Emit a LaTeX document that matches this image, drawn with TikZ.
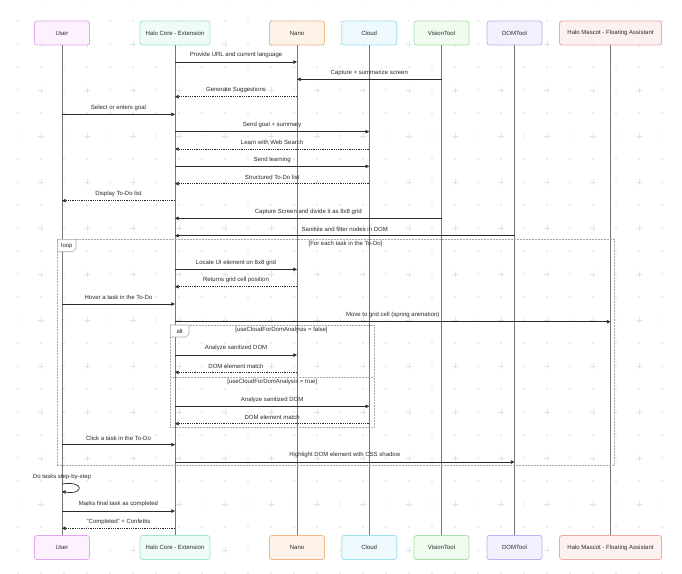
\documentclass[tikz,border=0pt]{standalone}
\usepackage{fontspec}
\setmainfont{Liberation Sans}
\usetikzlibrary{arrows.meta,calc}
\definecolor{txt}{HTML}{2A2A2A}
\definecolor{lifec}{HTML}{777777}
\definecolor{dotc}{HTML}{D3DCE2}
\definecolor{crossc}{HTML}{D2E9EF}
\definecolor{uF}{HTML}{FCF1FD}\definecolor{uD}{HTML}{E2A6EE}
\definecolor{hF}{HTML}{EEFBF7}\definecolor{hD}{HTML}{A6E3D3}
\definecolor{nF}{HTML}{FDF3E9}\definecolor{nD}{HTML}{EFB887}
\definecolor{cF}{HTML}{EEFAFD}\definecolor{cD}{HTML}{A0DEEB}
\definecolor{vF}{HTML}{F1FBF0}\definecolor{vD}{HTML}{A9E0A8}
\definecolor{dF}{HTML}{F3F1FD}\definecolor{dD}{HTML}{BBB2EF}
\definecolor{mF}{HTML}{FDF1F0}\definecolor{mD}{HTML}{EBAAA6}
\definecolor{frame}{HTML}{A8A8A8}
\tikzset{
  actor/.style={draw, rounded corners=2.5pt, line width=0.8pt, minimum width=55pt, minimum height=24pt, inner sep=1pt, text=txt},
  life/.style={draw=lifec, line width=0.8pt},
  msg/.style={draw=txt, line width=0.7pt, -{Triangle[length=3.6pt,width=3.4pt]}},
  ret/.style={msg, dash pattern=on 0.9pt off 0.9pt},
  lbl/.style={above=2.6pt, inner sep=1pt, text=txt},
  fbox/.style={draw=frame, line width=0.7pt, dash pattern=on 2pt off 1pt},
  tag/.style={draw=frame, fill=white, line width=0.6pt},
  note/.style={inner sep=1pt, text=txt}
}
\begin{document}
\begin{tikzpicture}[x=1pt,y=-1pt,font=\fontsize{6}{7}\selectfont]
\useasboundingbox (0,0) rectangle (682,573);
\fill[white] (0,0) rectangle (682,573);
% background grid
\foreach \i in {-1,...,28}{
  \foreach \j in {-4,...,21}{
    \pgfmathtruncatemacro{\cr}{(mod(\i+100,2)==0 && mod(\j+100,2)==0) ? 1 : 0}
    \pgfmathsetmacro{\gx}{41+23*\i}
    \pgfmathsetmacro{\gy}{90+23*\j}
    \ifnum\cr=1
      \draw[crossc, line width=0.8pt] (\gx-3,\gy) -- (\gx+3,\gy) (\gx,\gy-3) -- (\gx,\gy+3);
    \else
      \fill[dotc] (\gx,\gy) circle (0.95);
    \fi
  }
}
% actors top
\node[actor, fill=uF, draw=uD] (u1) at (62,33) {User};
\node[actor, fill=hF, draw=hD, minimum width=70pt] (h1) at (175,33) {Halo Core - Extension};
\node[actor, fill=nF, draw=nD] (n1) at (297,33) {Nano};
\node[actor, fill=cF, draw=cD] (c1) at (369.2,33) {Cloud};
\node[actor, fill=vF, draw=vD] (v1) at (441.5,33) {VisionTool};
\node[actor, fill=dF, draw=dD] (d1) at (514.5,33) {DOMTool};
\node[actor, fill=mF, draw=mD, minimum width=102pt] (m1) at (610.5,33) {Halo Mascot - Floating Assistant};
% actors bottom
\node[actor, fill=uF, draw=uD] (u2) at (62,547.5) {User};
\node[actor, fill=hF, draw=hD, minimum width=70pt] (h2) at (175,547.5) {Halo Core - Extension};
\node[actor, fill=nF, draw=nD] (n2) at (297,547.5) {Nano};
\node[actor, fill=cF, draw=cD] (c2) at (369.2,547.5) {Cloud};
\node[actor, fill=vF, draw=vD] (v2) at (441.5,547.5) {VisionTool};
\node[actor, fill=dF, draw=dD] (d2) at (514.5,547.5) {DOMTool};
\node[actor, fill=mF, draw=mD, minimum width=102pt] (m2) at (610.5,547.5) {Halo Mascot - Floating Assistant};
% lifelines
\foreach \a in {u,h,n,c,v,d,m}{\draw[life] (\a1.south) -- (\a2.north);}
% loop frame
\draw[fbox] (57.8,239.3) rectangle (614.8,465);
\draw[tag] (57.8,239.3) -- (76,239.3) -- (76,248.5) -- (72.8,251.7) -- (57.8,251.7) -- cycle;
\node[note] (looplbl) at (66.9,245.5) {loop};
\node[note] (loopcond) at (345.5,244.3) {[For each task in the To-Do]};
% alt frame
\draw[fbox] (170.4,325) rectangle (374,427.7);
\draw[fbox] (170.4,377.7) -- (374,377.7);
\draw[tag] (170.4,325) -- (189,325) -- (189,334) -- (186,337) -- (170.4,337) -- cycle;
\node[note] (altlbl) at (179.7,331) {alt};
\node[note] (altc1) at (281.5,329.7) {[useCloudForDomAnalysis = false]};
\node[note] (altc2) at (272.2,382) {[useCloudForDomAnalysis = true]};
% messages
\draw[msg] (h1 |- 0,62) -- node[lbl]{Provide URL and current language} (n1 |- 0,62);
\draw[msg] (v1 |- 0,79.3) -- node[lbl]{Capture + summarize screen} (n1 |- 0,79.3);
\draw[ret] (n1 |- 0,96.7) -- node[lbl]{Generate Suggestions} (h1 |- 0,96.7);
\draw[msg] (u1 |- 0,114.3) -- node[lbl]{Select or enters goal} (h1 |- 0,114.3);
\draw[msg] (h1 |- 0,131.7) -- node[lbl]{Send goal + summary} (c1 |- 0,131.7);
\draw[ret] (c1 |- 0,149) -- node[lbl]{Learn with Web Search} (h1 |- 0,149);
\draw[msg] (h1 |- 0,166.3) -- node[lbl]{Send learning} (c1 |- 0,166.3);
\draw[ret] (c1 |- 0,183.7) -- node[lbl]{Structured To-Do list} (h1 |- 0,183.7);
\draw[ret] (h1 |- 0,200.7) -- node[lbl]{Display To-Do list} (u1 |- 0,200.7);
\draw[msg] (v1 |- 0,218.3) -- node[lbl]{Capture Screen and divide it as 8x8 grid} (h1 |- 0,218.3);
\draw[msg] (d1 |- 0,235.7) -- node[lbl]{Sanitize and filter nodes in DOM} (h1 |- 0,235.7);
\draw[msg] (h1 |- 0,269.3) -- node[lbl]{Locate UI element on 8x8 grid} (n1 |- 0,269.3);
\draw[ret] (n1 |- 0,286.7) -- node[lbl]{Returns grid cell position} (h1 |- 0,286.7);
\draw[msg] (u1 |- 0,304) -- node[lbl]{Hover a task in the To-Do} (h1 |- 0,304);
\draw[msg] (h1 |- 0,321.7) -- node[lbl]{Move to grid cell (spring animation)} (m1 |- 0,321.7);
\draw[msg] (h1 |- 0,355) -- node[lbl]{Analyze sanitized DOM} (n1 |- 0,355);
\draw[ret] (n1 |- 0,372.3) -- node[lbl]{DOM element match} (h1 |- 0,372.3);
\draw[msg] (h1 |- 0,406.3) -- node[lbl]{Analyze sanitized DOM} (c1 |- 0,406.3);
\draw[ret] (c1 |- 0,423.7) -- node[lbl]{DOM element match} (h1 |- 0,423.7);
\draw[msg] (u1 |- 0,444.7) -- node[lbl]{Click a task in the To-Do} (h1 |- 0,444.7);
\draw[msg] (h1 |- 0,462) -- node[lbl]{Highlight DOM element with CSS shadow} (d1 |- 0,462);
% self loop
\node[note] (selflbl) at (62,476.7) {Do tasks step-by-step};
\coordinate (sa) at (u1 |- 0,484);
\coordinate (sb) at (u1 |- 0,491.5);
\draw[msg] (sa) .. controls ($(sa)+(22.5,-3.75)$) and ($(sa)+(22.5,11.25)$) .. (sb);
\draw[msg] (u1 |- 0,511) -- node[lbl]{Marks final task as completed} (h1 |- 0,511);
\draw[ret] (h1 |- 0,528.3) -- node[lbl]{"Completed" + Confettis} (u1 |- 0,528.3);
\end{tikzpicture}
\end{document}
